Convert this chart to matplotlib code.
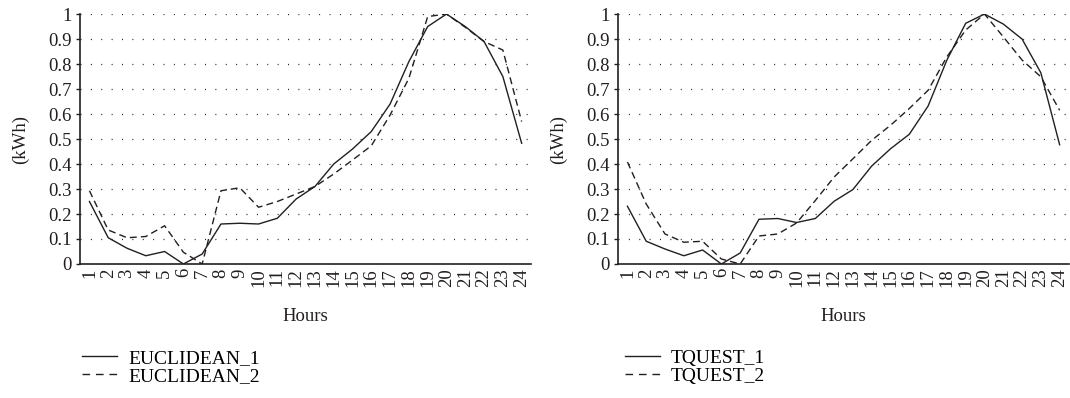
import matplotlib.pyplot as plt
import matplotlib as mpl
from matplotlib.lines import Line2D

mpl.rcParams['font.family'] = ['Liberation Serif', 'DejaVu Serif']
mpl.rcParams['axes.unicode_minus'] = False

hours = list(range(1, 25))

euclid_1 = [0.25, 0.105, 0.063, 0.033, 0.05, 0.0, 0.04, 0.16, 0.163, 0.16, 0.183, 0.26,
            0.31, 0.40, 0.46, 0.53, 0.64, 0.81, 0.95, 1.0, 0.95, 0.89, 0.75, 0.483]
euclid_2 = [0.293, 0.136, 0.105, 0.11, 0.153, 0.047, 0.0, 0.293, 0.305, 0.227, 0.25, 0.28,
            0.31, 0.36, 0.416, 0.473, 0.596, 0.743, 0.99, 1.0, 0.947, 0.89, 0.856, 0.57]
tquest_1 = [0.231, 0.091, 0.06, 0.033, 0.056, 0.0, 0.044, 0.179, 0.182, 0.166, 0.182, 0.251,
            0.298, 0.392, 0.461, 0.519, 0.632, 0.816, 0.963, 1.0, 0.96, 0.9, 0.765, 0.477]
tquest_2 = [0.408, 0.24, 0.12, 0.087, 0.091, 0.02, 0.0, 0.112, 0.12, 0.164, 0.254, 0.348,
            0.421, 0.495, 0.555, 0.622, 0.695, 0.829, 0.936, 1.0, 0.909, 0.816, 0.749, 0.615]

yticks = [0, 0.1, 0.2, 0.3, 0.4, 0.5, 0.6, 0.7, 0.8, 0.9, 1]
ytick_labels = ['0', '0.1', '0.2', '0.3', '0.4', '0.5', '0.6', '0.7', '0.8', '0.9', '1']

# (series 1, series 2, legend names, axes left, legend x) in figure fractions
panels = [
    (euclid_1, euclid_2, 'EUCLIDEAN_1', 'EUCLIDEAN_2', 0.0748, 0.0766),
    (tquest_1, tquest_2, 'TQUEST_1', 'TQUEST_2', 0.5776, 0.584),
]

fig = plt.figure(figsize=(10.7, 3.98), dpi=100)
col = '#231f20'
fs = 13.5

for s1, s2, n1, n2, left, legx in panels:
    ax = fig.add_axes([left, 0.3367, 0.4215, 0.628])
    for y in yticks[1:]:
        ax.axhline(y, color=col, lw=0.9, ls=(0, (0.8, 7.5)), zorder=0)
    ax.plot(hours, s1, color=col, lw=1.0, ls='-')
    ax.plot(hours, s2, color=col, lw=1.0, ls=(0, (5, 3)))
    ax.set_xlim(0.5, 24.5)
    ax.set_ylim(0, 1)
    ax.set_xticks(hours)
    ax.set_xticklabels([str(h) for h in hours], rotation=90, fontsize=fs)
    ax.set_yticks(yticks)
    ax.set_yticklabels(ytick_labels, fontsize=fs)
    ax.tick_params(axis='x', length=0, pad=3, colors=col)
    ax.tick_params(axis='y', length=3, width=1, pad=3, colors=col)
    for side in ['top', 'right']:
        ax.spines[side].set_visible(False)
    for side in ['left', 'bottom']:
        ax.spines[side].set_color(col)
        ax.spines[side].set_linewidth(1.2)
    ax.set_xlabel('Hours', fontsize=fs, color=col, labelpad=15)
    ax.set_ylabel('(kWh)', fontsize=fs, color=col, labelpad=14)

    handles = [Line2D([], [], color=col, lw=1.0, ls='-'),
               Line2D([], [], color=col, lw=1.0, ls=(0, (5.5, 4.2)))]
    ax.legend(handles, [n1, n2], loc='upper left', bbox_to_anchor=(legx, 0.123),
              bbox_transform=fig.transFigure, frameon=False, fontsize=14,
              handlelength=1.8, handletextpad=0.57, labelspacing=0.05,
              borderpad=0, borderaxespad=0)

fig.savefig('out.png', dpi=100)
